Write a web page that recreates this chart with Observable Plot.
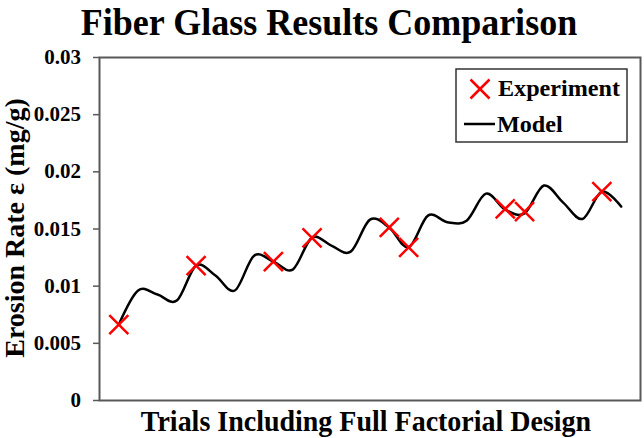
<!DOCTYPE html>
<html>
<head>
<meta charset="utf-8">
<script src="https://cdn.jsdelivr.net/npm/d3@7"></script>
<script src="https://cdn.jsdelivr.net/npm/@observablehq/plot@0.6"></script>
<style>
  html, body { margin: 0; padding: 0; background: #fff; }
  #chart { position: relative; width: 644px; height: 438px; overflow: hidden; }
  #chart > svg { position: absolute; left: 0; top: 0; }
  .serif { font-family: "Liberation Serif", "Times New Roman", serif; font-weight: bold; }
</style>
</head>
<body>
<div id="chart"></div>
<script>
// Trial index (1..27) of the full factorial design and the modelled erosion rate (mg/g)
const trials = [1, 2, 3, 4, 5, 6, 7, 8, 9, 10, 11, 12, 13, 14, 15, 16, 17, 18, 19, 20, 21, 22, 23, 24, 25, 26, 27];
const modelRate = [0.00664, 0.00962, 0.00927, 0.00874, 0.0118, 0.01093, 0.00962, 0.01267, 0.01215, 0.01145,
                   0.01425, 0.01355, 0.01302, 0.01582, 0.01512, 0.0134, 0.01617, 0.0156, 0.01573, 0.01809,
                   0.0167, 0.01637, 0.0188, 0.01731, 0.01588, 0.01827, 0.01696];

// Trials that were run experimentally and their measured erosion rate (mg/g)
const experimentTrials = [1, 5, 9, 11, 15, 16, 21, 22, 26];
const experimentRate = [0.00664, 0.0118, 0.01215, 0.01422, 0.01515, 0.0134, 0.01676, 0.01652, 0.01827];

// Y-axis tick values
const yTicks = [0, 0.005, 0.01, 0.015, 0.02, 0.025, 0.03];

const titleText = "Fiber Glass Results Comparison";
const xLabel = "Trials Including Full Factorial Design";
const yLabel = "Erosion Rate ε (mg/g)";
const seriesNames = ["Experiment", "Model"];

const model = trials.map((t, i) => ({trial: t, rate: modelRate[i]}));
const experiment = experimentTrials.map((t, i) => ({trial: t, rate: experimentRate[i]}));

const W = 644, H = 438;
const plot = Plot.plot({
  width: W,
  height: H,
  marginTop: 57,
  marginBottom: 38,
  marginLeft: 99,
  marginRight: 4,
  style: {background: "transparent"},
  x: {domain: [0, 28], axis: null},
  y: {domain: [0, 0.03], axis: null},
  marks: [
    // tick marks on the left edge of the frame (labels are added below)
    Plot.axisY({ticks: yTicks, tickFormat: () => "", tickSize: 6, stroke: "#595959", strokeWidth: 1.5, label: null}),
    Plot.frame({stroke: "#595959", strokeWidth: 2}),
    Plot.line(model, {x: "trial", y: "rate", curve: "cardinal", tension: 0, stroke: "#000", strokeWidth: 2.5}),
    Plot.dot(experiment, {x: "trial", y: "rate", symbol: "times", r: 8.7, stroke: "#ff0000", strokeWidth: 2.5})
  ]
});
const chart = document.getElementById("chart");
chart.appendChild(plot);

// Tick labels, title, axis titles and legend drawn as an overlay
const y = plot.scale("y");
const over = d3.create("svg").attr("width", W).attr("height", H).attr("class", "serif");

over.append("g").attr("text-anchor", "end").attr("font-size", 21)
  .selectAll("text").data(yTicks).join("text")
  .attr("x", 81).attr("y", d => y.apply(d)).attr("dy", "0.34em")
  .text(d3.format("~g"));

over.append("text").attr("transform", "translate(329,35) scale(1,1.05)").attr("text-anchor", "middle")
  .attr("font-size", 36).text(titleText);

over.append("text").attr("transform", "translate(366,431) scale(1,1.05)").attr("text-anchor", "middle")
  .attr("font-size", 28).text(xLabel);

over.append("text").attr("transform", "translate(24,228) rotate(-90)").attr("text-anchor", "middle")
  .attr("font-size", 28).text(yLabel);

const lg = over.append("g").attr("transform", "translate(456,69)");
lg.append("rect").attr("width", 171).attr("height", 73).attr("fill", "#fff")
  .attr("stroke", "#333").attr("stroke-width", 1.5);
lg.append("path").attr("d", d3.symbol(d3.symbolTimes, 237)()).attr("transform", "translate(24,20)")
  .attr("fill", "none").attr("stroke", "#ff0000").attr("stroke-width", 2.5);
lg.append("text").attr("transform", "translate(42,27) scale(1.05,1)").attr("font-size", 23).text(seriesNames[0]);
lg.append("line").attr("x1", 8).attr("x2", 39).attr("y1", 55).attr("y2", 55)
  .attr("stroke", "#000").attr("stroke-width", 2.5);
lg.append("text").attr("transform", "translate(41,63) scale(1.05,1)").attr("font-size", 23).text(seriesNames[1]);

chart.appendChild(over.node());
</script>
</body>
</html>
